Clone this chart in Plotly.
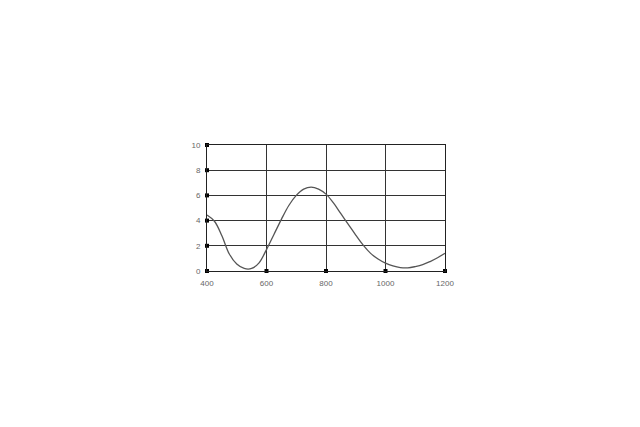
import plotly.graph_objects as go

wavelength = [400, 425, 450, 475, 500, 525, 550, 575, 600, 625, 650, 675, 700, 725, 750, 775,
              800, 825, 850, 875, 900, 925, 950, 975, 1000, 1025, 1050, 1075, 1100, 1125,
              1150, 1175, 1200]
values = [4.44, 3.95, 2.8, 1.35, 0.55, 0.2, 0.2, 0.65, 1.7, 2.9, 4.1, 5.2, 6.0, 6.5, 6.66, 6.5,
          6.1, 5.4, 4.55, 3.7, 2.85, 2.05, 1.4, 0.95, 0.62, 0.4, 0.27, 0.25, 0.35, 0.5,
          0.75, 1.05, 1.4]

x_ticks = [400, 600, 800, 1000, 1200]
y_ticks = [0, 2, 4, 6, 8, 10]

fig = go.Figure()
fig.add_trace(go.Scatter(x=wavelength, y=values, mode="lines",
                         line=dict(color="#555555", width=1.3, shape="spline", smoothing=1.0),
                         hoverinfo="skip"))
# square tick marks on the axes
fig.add_trace(go.Scatter(x=[x_ticks[0]] * len(y_ticks), y=y_ticks, mode="markers",
                         marker=dict(symbol="square", size=4, color="black"), cliponaxis=False))
fig.add_trace(go.Scatter(x=x_ticks, y=[y_ticks[0]] * len(x_ticks), mode="markers",
                         marker=dict(symbol="square", size=4, color="black"), cliponaxis=False))

fig.update_layout(
    width=640, height=427,
    margin=dict(l=199, r=203, t=137, b=164),
    paper_bgcolor="white", plot_bgcolor="white",
    showlegend=False,
    font=dict(family="Liberation Sans, Arial, sans-serif", size=8, color="#666666"),
)
fig.update_xaxes(range=[400, 1200], tickvals=x_ticks, ticktext=[str(v) for v in x_ticks],
                 showgrid=True, gridcolor="#333333", gridwidth=1,
                 showline=True, mirror=True, linecolor="#222222", linewidth=1, zeroline=False,
                 ticks="", ticklabelstandoff=4)
fig.update_yaxes(range=[0, 10], tickvals=y_ticks, ticktext=[str(v) for v in y_ticks],
                 showgrid=True, gridcolor="#333333", gridwidth=1,
                 showline=True, mirror=True, linecolor="#222222", linewidth=1, zeroline=False,
                 ticks="", ticklabelstandoff=4)

fig.write_html("out.html")
